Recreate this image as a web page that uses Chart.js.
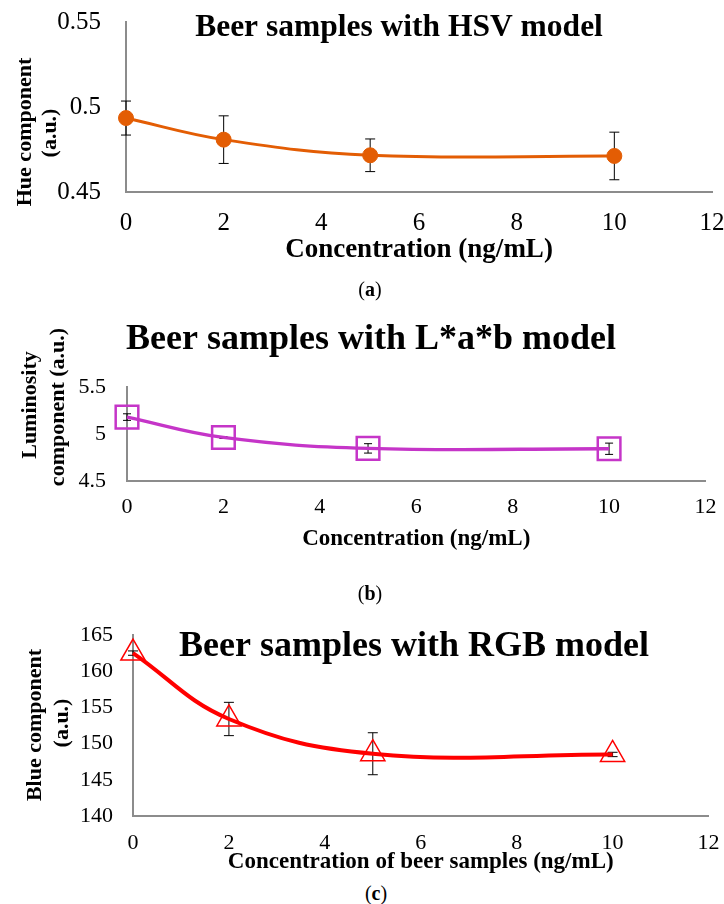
<!DOCTYPE html>
<html>
<head>
<meta charset="utf-8">
<script src="https://cdn.jsdelivr.net/npm/chart.js@4.4.1/dist/chart.umd.min.js"></script>
<style>
body { margin: 0; background: #fff; width: 724px; height: 904px; position: relative; overflow: hidden; font-family: "Liberation Serif", serif; }
canvas { position: absolute; left: 0; }
.cap { position: absolute; width: 80px; margin-left: -40px; text-align: center; font-size: 20px; line-height: 20px; color: #000; }
</style>
</head>
<body>
<canvas id="chartA" width="724" height="270" style="top:0px"></canvas>
<canvas id="chartB" width="724" height="270" style="top:300px"></canvas>
<canvas id="chartC" width="724" height="280" style="top:600px"></canvas>
<div class="cap" style="left:370px; top:279px">(<b>a</b>)</div>
<div class="cap" style="left:370px; top:583px">(<b>b</b>)</div>
<div class="cap" style="left:376px; top:883px">(<b>c</b>)</div>
<script>
// concentrations (ng/mL)
const xConc = [0, 2, 5, 10];
const xTicks = [0, 2, 4, 6, 8, 10, 12];

// (a) HSV - hue
const hueValues = [0.4935, 0.4808, 0.4716, 0.4712];
const hueErrors = [0.010, 0.014, 0.0096, 0.014];
const hueTicks = [0.45, 0.5, 0.55];

// (b) L*a*b - luminosity
const lumValues = [5.18, 4.963, 4.847, 4.843];
const lumErrors = [0.035, 0.01, 0.05, 0.06];
const lumTicks = [4.5, 5, 5.5];

// (c) RGB - blue
const blueValues = [162.5, 153.4, 148.6, 148.5];
const blueErrors = [0.3, 2.3, 2.9, 0.3];
const blueTicks = [140, 145, 150, 155, 160, 165];

Chart.defaults.font.family = '"Liberation Serif", "Times New Roman", serif';
Chart.defaults.color = '#000';

// error bars drawn under the markers
const errorBars = {
    id: 'errorBars',
    beforeDatasetsDraw(chart) {
        const ctx = chart.ctx;
        const xs = chart.scales.x, ys = chart.scales.y;
        const ds = chart.data.datasets[0];
        ctx.save();
        ctx.strokeStyle = '#000';
        ctx.lineWidth = 1;
        ds.data.forEach((p, i) => {
            const e = ds.errors[i];
            const px = xs.getPixelForValue(p.x);
            const t = ys.getPixelForValue(p.y + e);
            const b = ys.getPixelForValue(p.y - e);
            const c = ds.capHalf;
            ctx.beginPath();
            ctx.moveTo(px, t); ctx.lineTo(px, b);
            ctx.moveTo(px - c, t); ctx.lineTo(px + c, t);
            ctx.moveTo(px - c, b); ctx.lineTo(px + c, b);
            ctx.stroke();
        });
        ctx.restore();
    }
};

// panel title and y axis title lines
function overlayText(items) {
    return {
        id: 'overlayText',
        afterDraw(chart) {
            const ctx = chart.ctx;
            ctx.save();
            ctx.fillStyle = '#000';
            ctx.textAlign = 'center';
            ctx.textBaseline = 'middle';
            items.forEach(it => {
                ctx.save();
                ctx.font = 'bold ' + it.size + 'px "Liberation Serif", serif';
                ctx.translate(it.x, it.y);
                if (it.rotate) ctx.rotate(-Math.PI / 2);
                ctx.fillText(it.text, 0, 0);
                ctx.restore();
            });
            ctx.restore();
        }
    };
}

function makeChart(id, p) {
    return new Chart(document.getElementById(id), {
        type: 'scatter',
        data: {
            datasets: [{
                data: xConc.map((x, i) => ({ x: x, y: p.values[i] })),
                errors: p.errors,
                capHalf: p.capHalf,
                showLine: true,
                tension: 0.4,
                borderColor: p.color,
                borderWidth: p.lineWidth,
                pointStyle: p.pointStyle,
                pointRadius: p.pointRadius,
                pointBorderWidth: p.pointBorderWidth,
                pointBorderColor: p.color,
                pointBackgroundColor: p.pointFill,
                clip: false
            }]
        },
        options: {
            responsive: false,
            animation: false,
            events: [],
            layout: { padding: { top: p.padTop, right: p.padRight, left: 0, bottom: 0 } },
            plugins: { legend: { display: false }, tooltip: { enabled: false } },
            scales: {
                x: {
                    type: 'linear', min: 0, max: 12,
                    afterBuildTicks: s => { s.ticks = xTicks.map(v => ({ value: v })); },
                    afterFit: s => { s.height = p.xHeight; s.paddingLeft = 0; s.paddingRight = 0; },
                    grid: { display: false, drawTicks: false },
                    border: { color: '#8c8c8c', width: 2 },
                    ticks: { padding: p.xTickPad, font: { size: p.tickSize }, callback: v => String(v) },
                    title: {
                        display: true, text: p.xTitle,
                        font: { size: p.xTitleSize, weight: 'bold' },
                        padding: { top: 0, bottom: p.xTitlePad }
                    }
                },
                y: {
                    type: 'linear', min: p.ticks[0], max: p.ticks[p.ticks.length - 1],
                    afterBuildTicks: s => { s.ticks = p.ticks.map(v => ({ value: v })); },
                    afterFit: s => { s.width = p.yWidth; s.paddingTop = 0; s.paddingBottom = 0; },
                    grid: { display: false, drawTicks: false },
                    border: { color: '#8c8c8c', width: 2 },
                    ticks: { padding: p.yTickPad, font: { size: p.tickSize }, callback: v => String(v) }
                }
            }
        },
        plugins: [errorBars, overlayText(p.texts)]
    });
}

makeChart('chartA', {
    values: hueValues, errors: hueErrors, ticks: hueTicks, capHalf: 5,
    color: '#e35d04', lineWidth: 3, pointStyle: 'circle', pointRadius: 7.5,
    pointBorderWidth: 1, pointFill: '#e35d04',
    padTop: 22, padRight: 12, yWidth: 126, xHeight: 78,
    tickSize: 25, xTickPad: 16, yTickPad: 25,
    xTitle: 'Concentration (ng/mL)', xTitleSize: 27, xTitlePad: 4,
    texts: [
        { text: 'Beer samples with HSV model', x: 399, y: 28, size: 31.5 },
        { text: 'Hue component', x: 25, y: 132, size: 22, rotate: true },
        { text: '(a.u.)', x: 50, y: 133, size: 22, rotate: true }
    ]
});

makeChart('chartB', {
    values: lumValues, errors: lumErrors, ticks: lumTicks, capHalf: 4,
    color: '#c535c8', lineWidth: 3.3, pointStyle: 'rect', pointRadius: 16,
    pointBorderWidth: 2.5, pointFill: 'rgba(0,0,0,0)',
    padTop: 87, padRight: 9, yWidth: 127, xHeight: 89,
    tickSize: 22, xTickPad: 13, yTickPad: 21,
    xTitle: 'Concentration (ng/mL)', xTitleSize: 23, xTitlePad: 17,
    texts: [
        { text: 'Beer samples with L*a*b model', x: 371, y: 40, size: 36 },
        { text: 'Luminosity', x: 30, y: 105, size: 22, rotate: true },
        { text: 'component (a.u.)', x: 58, y: 107, size: 22, rotate: true }
    ]
});

makeChart('chartC', {
    values: blueValues, errors: blueErrors, ticks: blueTicks, capHalf: 5,
    color: '#ff0000', lineWidth: 4, pointStyle: 'triangle', pointRadius: 14,
    pointBorderWidth: 1.5, pointFill: 'rgba(0,0,0,0)',
    padTop: 35, padRight: 13, yWidth: 133, xHeight: 64,
    tickSize: 22, xTickPad: 14, yTickPad: 20,
    xTitle: 'Concentration of beer samples (ng/mL)', xTitleSize: 23, xTitlePad: 4,
    texts: [
        { text: 'Beer samples with RGB model', x: 414, y: 47, size: 36 },
        { text: 'Blue component', x: 35, y: 125, size: 22, rotate: true },
        { text: '(a.u.)', x: 62, y: 123, size: 22, rotate: true }
    ]
});
</script>
</body>
</html>
